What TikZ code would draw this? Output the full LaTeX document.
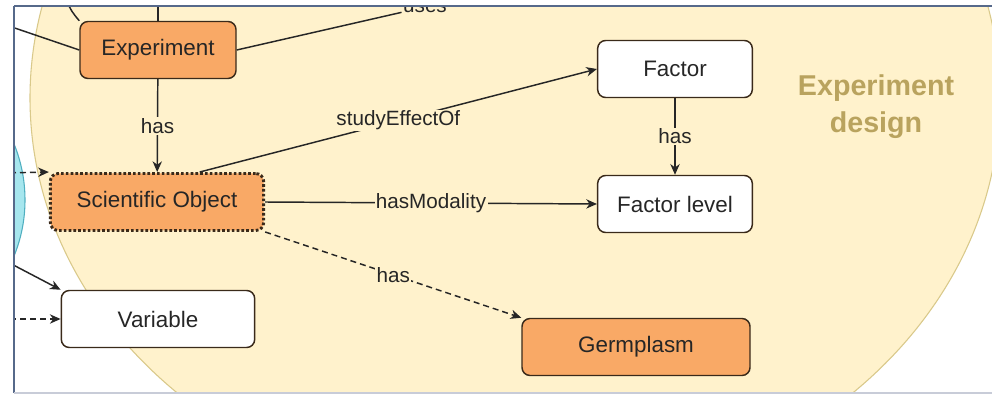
\documentclass[tikz,border=0pt]{standalone}
\usepackage{fontspec}
\setmainfont{Liberation Sans}
\usetikzlibrary{arrows.meta}
\definecolor{ellfill}{HTML}{FFF2CC}
\definecolor{elldraw}{HTML}{D9C98A}
\definecolor{orfill}{HTML}{F9A966}
\definecolor{ordraw}{HTML}{3A2A1A}
\definecolor{txt}{HTML}{262626}
\definecolor{titlecol}{HTML}{B9A35E}
\definecolor{cyfill}{HTML}{A6E6EE}
\definecolor{cydraw}{HTML}{4FAFC0}
\definecolor{framecol}{HTML}{56698A}
\definecolor{framebot}{HTML}{C8CCD8}
\begin{document}
\begin{tikzpicture}[x=0.75pt,y=-0.75pt,
  box/.style={rounded corners=6pt, draw=ordraw, line width=1.1pt, minimum height=42.75pt,
    inner sep=0pt, font=\fontsize{16.8}{19}\selectfont, text=txt},
  orbox/.style={box, fill=orfill},
  whbox/.style={box, fill=white},
  lbl/.style={fill=ellfill, inner sep=1pt, font=\fontsize{15.5}{17}\selectfont, text=txt},
  conn/.style={line width=1.1pt, draw=black!85, -{Stealth[length=8pt,width=7pt,inset=2.5pt]}},
  plain/.style={line width=1.1pt, draw=black!85},
  dsh/.style={dash pattern=on 4.5pt off 3pt}
]
\useasboundingbox (0,0) rectangle (992,395);
\fill[white] (0,0) rectangle (992,395);
\begin{scope}
\clip (14,6) rectangle (992,393);
\fill[ellfill, draw=elldraw, line width=0.8pt] (515,98) ellipse [x radius=363.75pt, y radius=308.25pt];
\fill[cyfill, draw=cydraw, line width=0.8pt] (-123,200) circle [radius=111pt];

\node[orbox, minimum width=117pt] (exp) at (158,50) {Experiment};
\node[orbox, minimum width=160pt, draw=ordraw, line width=2.2pt, dash pattern=on 2pt off 1.6pt] (so) at (157,202) {Scientific Object};
\node[whbox, minimum width=145pt] (var) at (158,319) {Variable};
\node[whbox, minimum width=116pt] (fac) at (675,69) {Factor};
\node[whbox, minimum width=116pt] (fl) at (675,204) {Factor level};
\node[orbox, minimum width=171pt] (germ) at (636,347) {Germplasm};

\node[font=\bfseries\fontsize{21.5}{27.7}\selectfont, text=titlecol, align=center] (title) at (876,107) {Experiment\\design};

\coordinate (t1) at (158,0);
\coordinate (t2) at (66,0);
\coordinate (l1) at (0,23);
\coordinate (l2) at (0,173);
\coordinate (l3) at (0,258);
\coordinate (l4) at (0,319);
\node[inner sep=1pt, font=\fontsize{15.5}{17}\selectfont, text=txt] (uses) at (425,7) {uses};

\draw[plain] (exp.north) -- (t1);
\draw[plain] (t2) .. controls (72,12) .. (exp.north west);
\draw[plain] (l1) -- (exp.west);
\draw[plain] (exp.east) -- (uses);
\draw[conn, dsh] (l2) -- (so.north west);
\draw[conn] (l3) -- (var.north west);
\draw[conn, dsh] (l4) -- (var.west);

\draw[conn] (exp) -- node[lbl]{has} (so);
\draw[conn] ([xshift=32pt]so.north) -- node[lbl, pos=0.5]{studyEffectOf} (fac.west);
\draw[conn] (so.east) -- node[lbl, pos=0.5]{hasModality} (fl.west);
\draw[conn, dsh] (so.south east) -- node[lbl, pos=0.5]{has} (germ.north west);
\draw[conn] (fac) -- node[lbl]{has} (fl);
\end{scope}
\draw[framecol, line width=1.5pt] (14,6) -- (992,6);
\draw[framecol, line width=1.3pt] (14,6) -- (14,393);
\draw[framebot, line width=0.8pt] (14,393) -- (992,393);
\end{tikzpicture}
\end{document}
